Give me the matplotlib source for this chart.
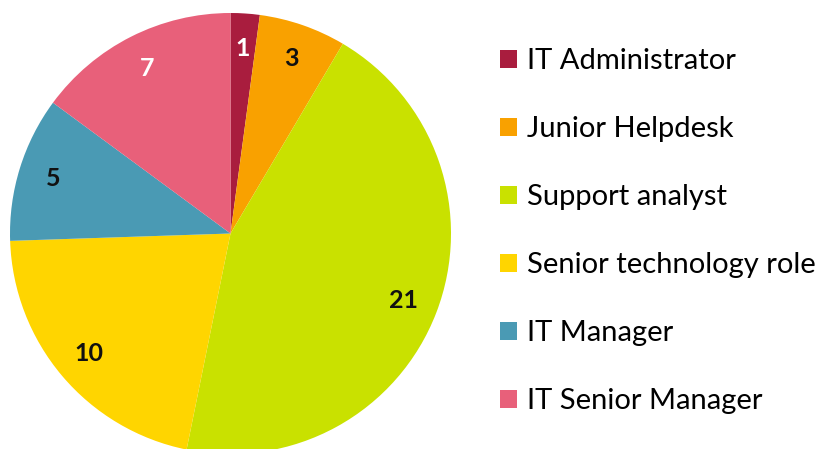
import matplotlib
matplotlib.use("Agg")
import matplotlib.pyplot as plt
from matplotlib.patches import Patch

roles = ["IT Administrator", "Junior Helpdesk", "Support analyst",
         "Senior technology role", "IT Manager", "IT Senior Manager"]
counts = [1, 3, 21, 10, 5, 7]
colors = ["#A91D3E", "#F9A100", "#C9E100", "#FFD500", "#4A9AB4", "#E8607A"]
label_colors = ["white", "#111111", "#111111", "#111111", "#111111", "white"]

plt.rcParams['font.family'] = ['Lato', 'DejaVu Sans']

fig = plt.figure(figsize=(8.21, 4.49), dpi=100)
ax = fig.add_axes([10 / 821, -5 / 449, 441 / 821, 441 / 449])

wedges, texts = ax.pie(counts, colors=colors, startangle=90, counterclock=False,
                       labels=[str(c) for c in counts], labeldistance=0.84,
                       textprops=dict(fontsize=18, fontweight='bold'))
for t, c in zip(texts, label_colors):
    t.set_color(c)
    t.set_ha('center')
    t.set_va('center')
ax.set_xlim(-1, 1)
ax.set_ylim(-1, 1)
ax.set_aspect('equal')

handles = [Patch(facecolor=c, edgecolor='none') for c in colors]
fig.legend(handles, roles, loc='upper left', bbox_to_anchor=(500 / 821, 1 - 48 / 449),
           frameon=False, fontsize=21, labelspacing=1.44, handlelength=0.58,
           handleheight=0.58, handletextpad=0.34, borderpad=0, borderaxespad=0)

fig.savefig("out.png", dpi=100)
